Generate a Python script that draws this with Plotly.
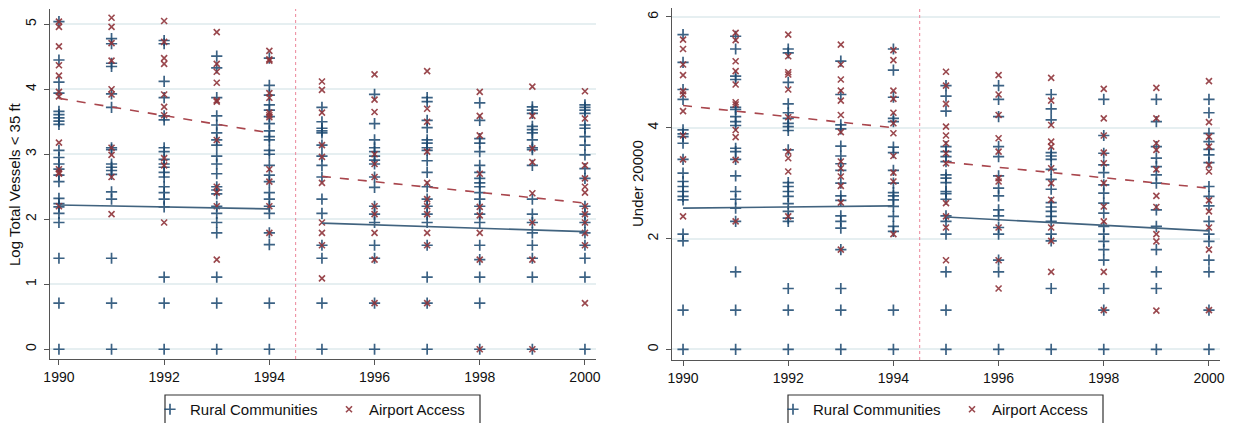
import plotly.graph_objects as go

# ---------------- data ----------------
years = [1990, 1991, 1992, 1993, 1994, 1995, 1996, 1997, 1998, 1999, 2000]

# Left panel: Log Total Vessels < 35 ft
left_rural = {
    1990: [5.04, 4.45, 4.11, 3.94, 3.66, 3.61, 3.56, 3.51, 3.46, 3.06, 2.95, 2.85, 2.77, 2.68, 2.58, 2.32, 2.24, 2.19, 2.09, 1.95, 1.40, 0.71, 0],
    1991: [4.78, 4.70, 4.40, 4.35, 3.93, 3.72, 3.10, 3.07, 2.85, 2.80, 2.75, 2.69, 2.42, 2.31, 1.40, 0.71, 0],
    1992: [4.75, 4.70, 4.12, 3.87, 3.59, 3.53, 3.10, 3.04, 2.92, 2.85, 2.80, 2.72, 2.65, 2.50, 2.41, 2.31, 2.19, 1.11, 0.71, 0],
    1993: [4.51, 4.33, 3.87, 3.59, 3.45, 3.33, 3.22, 3.14, 2.97, 2.85, 2.70, 2.50, 2.45, 2.39, 2.20, 2.09, 1.95, 1.79, 1.11, 0.71, 0],
    1994: [4.48, 4.06, 3.91, 3.76, 3.68, 3.58, 3.47, 3.36, 3.27, 3.22, 3.06, 3.00, 2.83, 2.68, 2.58, 2.41, 2.31, 2.20, 2.09, 1.79, 1.61, 0.71, 0],
    1995: [3.72, 3.50, 3.40, 3.36, 3.33, 3.14, 2.97, 2.83, 2.65, 2.31, 2.09, 1.60, 1.40, 0.71, 0],
    1996: [3.92, 3.47, 3.22, 3.10, 3.04, 2.97, 2.91, 2.85, 2.65, 2.49, 2.20, 2.08, 1.95, 1.60, 1.40, 0.71, 0],
    1997: [3.87, 3.81, 3.52, 3.41, 3.22, 3.17, 3.10, 3.06, 2.90, 2.72, 2.50, 2.31, 2.20, 2.08, 1.95, 1.60, 1.11, 0.71, 0],
    1998: [3.79, 3.52, 3.24, 3.17, 3.04, 2.83, 2.72, 2.63, 2.56, 2.50, 2.41, 2.31, 2.20, 2.08, 1.95, 1.60, 1.38, 1.11, 0.71, 0],
    1999: [3.73, 3.68, 3.63, 3.43, 3.38, 3.33, 3.22, 3.10, 3.07, 2.83, 2.31, 2.08, 1.95, 1.79, 1.60, 1.40, 1.11, 0],
    2000: [3.76, 3.72, 3.68, 3.63, 3.45, 3.40, 3.27, 3.14, 2.99, 2.78, 2.63, 2.20, 2.08, 1.95, 1.79, 1.60, 1.40, 1.11, 0],
}
left_airport = {
    1990: [5.04, 4.96, 4.66, 4.37, 4.21, 3.96, 3.89, 3.18, 2.77, 2.72, 2.70, 2.20],
    1991: [5.10, 4.96, 4.71, 4.44, 4.00, 3.92, 3.10, 2.99, 2.65, 2.08],
    1992: [5.05, 4.73, 4.48, 4.39, 3.92, 3.73, 3.60, 2.94, 2.83, 1.95],
    1993: [4.88, 4.39, 4.27, 4.10, 3.83, 3.81, 3.22, 2.50, 2.41, 2.20, 1.38],
    1994: [4.59, 4.46, 4.44, 3.94, 3.87, 3.64, 3.60, 3.57, 2.77, 2.58, 2.20, 1.79],
    1995: [4.12, 3.99, 3.64, 3.14, 2.96, 2.56, 1.95, 1.79, 1.60, 1.09],
    1996: [4.23, 3.84, 3.65, 3.00, 2.85, 2.65, 2.20, 2.08, 1.79, 1.38, 0.71],
    1997: [4.28, 3.70, 3.50, 3.04, 2.56, 2.31, 2.20, 2.08, 1.79, 1.60, 0.71],
    1998: [3.96, 3.59, 3.29, 2.70, 2.19, 2.06, 1.79, 1.38, 0],
    1999: [4.04, 3.59, 3.09, 2.88, 2.40, 1.95, 1.38, 0],
    2000: [3.97, 3.55, 2.83, 2.63, 2.50, 2.41, 2.20, 2.08, 1.95, 1.79, 1.60, 0.71],
}

# Right panel: Under 20000
right_rural = {
    1990: [5.68, 5.18, 4.69, 4.51, 3.96, 3.89, 3.84, 3.72, 3.43, 3.18, 3.03, 2.94, 2.85, 2.76, 2.70, 2.08, 1.96, 0.71, 0],
    1991: [5.65, 5.42, 4.93, 4.87, 4.37, 4.33, 4.20, 4.11, 4.04, 3.63, 3.57, 3.43, 3.13, 2.85, 2.71, 2.55, 2.31, 1.40, 0.71, 0],
    1992: [5.42, 5.35, 4.82, 4.43, 4.27, 4.17, 4.08, 4.02, 3.95, 3.60, 3.01, 2.94, 2.85, 2.76, 2.63, 2.49, 2.37, 2.31, 1.10, 0.71, 0],
    1993: [5.20, 4.60, 4.05, 3.98, 3.67, 3.49, 3.35, 3.23, 3.00, 2.77, 2.69, 2.41, 2.31, 2.19, 1.80, 1.10, 0.71, 0],
    1994: [5.42, 5.04, 4.55, 4.17, 4.11, 3.65, 3.55, 3.23, 3.00, 2.83, 2.77, 2.70, 2.58, 2.40, 2.22, 2.13, 0.71, 0],
    1995: [4.76, 4.57, 4.30, 3.66, 3.57, 3.48, 3.39, 3.15, 3.09, 3.01, 2.85, 2.81, 2.71, 2.41, 2.31, 2.08, 1.40, 0.71, 0],
    1996: [4.76, 4.51, 4.20, 3.66, 3.48, 3.13, 2.91, 2.77, 2.52, 2.41, 2.20, 2.08, 1.61, 1.40, 0],
    1997: [4.60, 4.34, 4.14, 3.55, 3.49, 3.43, 3.25, 3.07, 2.89, 2.65, 2.57, 2.49, 2.40, 2.31, 2.08, 1.96, 1.10, 0],
    1998: [4.51, 3.86, 3.54, 3.33, 3.19, 2.97, 2.82, 2.64, 2.46, 2.22, 2.08, 1.95, 1.80, 1.61, 1.10, 0.71, 0],
    1999: [4.51, 4.11, 3.66, 3.45, 3.30, 3.15, 3.00, 2.52, 2.22, 1.80, 1.40, 1.10, 0],
    2000: [4.51, 4.27, 3.90, 3.75, 3.61, 3.51, 3.37, 2.94, 2.76, 2.59, 2.31, 2.08, 1.95, 1.61, 1.40, 0.71, 0],
}
right_airport = {
    1990: [5.59, 5.42, 5.14, 4.95, 4.66, 4.60, 4.30, 3.86, 3.43, 2.40],
    1991: [5.71, 5.58, 5.20, 5.02, 4.78, 4.46, 4.42, 3.96, 3.83, 3.42, 2.31],
    1992: [5.68, 5.29, 5.00, 4.96, 4.69, 4.19, 3.57, 3.45, 3.21, 2.40],
    1993: [5.50, 5.14, 4.87, 4.67, 4.49, 4.23, 3.92, 3.39, 3.27, 3.12, 2.95, 2.65, 1.80],
    1994: [5.40, 5.22, 4.67, 4.52, 4.27, 4.08, 3.90, 3.49, 3.19, 3.03, 2.08],
    1995: [5.01, 4.76, 4.43, 4.02, 3.86, 3.72, 3.54, 3.36, 2.64, 2.40, 2.20, 1.61],
    1996: [4.95, 4.60, 4.23, 3.81, 3.57, 3.09, 3.03, 2.20, 1.61, 1.10],
    1997: [4.90, 4.49, 4.05, 3.75, 3.66, 3.27, 3.00, 2.70, 2.20, 1.96, 1.40],
    1998: [4.70, 4.17, 3.86, 3.55, 3.36, 3.00, 2.58, 2.31, 1.40, 0.71],
    1999: [4.72, 4.17, 3.72, 3.60, 3.25, 2.77, 2.57, 2.08, 1.95, 0.70],
    2000: [4.84, 4.10, 3.84, 3.66, 3.33, 3.21, 2.69, 2.49, 2.20, 1.80, 0.71],
}

# Linear fits (pre / post period endpoints)
fit_pre_years = [1990, 1994]
fit_post_years = [1995, 2000]
left_rural_fit_pre = [2.22, 2.16]
left_rural_fit_post = [1.94, 1.81]
left_airport_fit_pre = [3.86, 3.33]
left_airport_fit_post = [2.66, 2.25]
right_rural_fit_pre = [2.55, 2.59]
right_rural_fit_post = [2.39, 2.14]
right_airport_fit_pre = [4.40, 4.00]
right_airport_fit_post = [3.38, 2.91]

policy_break = 1994.5
x_ticks = [1990, 1992, 1994, 1996, 1998, 2000]
left_y_ticks = [0, 1, 2, 3, 4, 5]
right_y_ticks = [0, 2, 4, 6]
left_y_title = "Log Total Vessels < 35 ft"
right_y_title = "Under 20000"
series_names = ["Rural Communities", "Airport Access"]

# ---------------- styling ----------------
BLUE = "#1a476f"
RED = "#90353b"
BLUE_LINE = "#41637f"
RED_LINE = "#a9464d"
GRID = "#e6eff1"
AXIS = "#555555"
VLINE = "#ec8599"
FONT = "Liberation Sans, Arial, sans-serif"
W, H = 1233, 423


def flatten(d):
    xs, ys = [], []
    for yr in years:
        for v in d.get(yr, []):
            xs.append(yr)
            ys.append(v)
    return xs, ys


fig = go.Figure()


def add_panel(rural, airport, fits, xa, ya, legend):
    rx, ry = flatten(rural)
    ax_, ay_ = flatten(airport)
    fig.add_trace(go.Scatter(
        x=rx, y=ry, mode="markers", name=series_names[0], legend=legend,
        xaxis=xa, yaxis=ya,
        marker=dict(symbol="cross-thin", size=8, color=BLUE, opacity=0.85,
                    line=dict(width=1.7, color=BLUE))))
    fig.add_trace(go.Scatter(
        x=ax_, y=ay_, mode="markers", name=series_names[1], legend=legend,
        xaxis=xa, yaxis=ya,
        marker=dict(symbol="x-thin", size=6, color=RED, opacity=0.9,
                    line=dict(width=1.6, color=RED))))
    (rpre, rpost, apre, apost) = fits
    for yy, xx in ((rpre, fit_pre_years), (rpost, fit_post_years)):
        fig.add_trace(go.Scatter(x=xx, y=yy, mode="lines", showlegend=False,
                                 xaxis=xa, yaxis=ya,
                                 line=dict(color=BLUE_LINE, width=1.6)))
    for yy, xx in ((apre, fit_pre_years), (apost, fit_post_years)):
        fig.add_trace(go.Scatter(x=xx, y=yy, mode="lines", showlegend=False,
                                 xaxis=xa, yaxis=ya,
                                 line=dict(color=RED_LINE, width=1.6, dash="dash")))


add_panel(left_rural, left_airport,
          (left_rural_fit_pre, left_rural_fit_post, left_airport_fit_pre, left_airport_fit_post),
          "x", "y", "legend")
add_panel(right_rural, right_airport,
          (right_rural_fit_pre, right_rural_fit_post, right_airport_fit_pre, right_airport_fit_post),
          "x2", "y2", "legend2")

xcommon = dict(tickmode="array", tickvals=x_ticks, showgrid=False, zeroline=False,
               showline=True, linecolor=AXIS, linewidth=1.3, ticks="outside",
               ticklen=5, tickcolor=AXIS, tickwidth=1.2, automargin=False,
               tickfont=dict(size=14, color="#111111", family=FONT))
ycommon = dict(tickmode="array", showgrid=True, gridcolor=GRID, gridwidth=1.5,
               zeroline=False, showline=True, linecolor=AXIS, linewidth=1.3,
               ticks="outside", ticklen=5, tickcolor=AXIS, tickwidth=1.2,
               tickangle=-90, ticklabelstandoff=2, automargin=False,
               tickfont=dict(size=14, color="#111111", family=FONT))

fig.update_layout(
    width=W, height=H,
    margin=dict(l=0, r=0, t=0, b=0, autoexpand=False),
    paper_bgcolor="white", plot_bgcolor="white",
    font=dict(family=FONT, size=14, color="#111111"),
    xaxis=dict(xcommon, domain=[50 / W, 596 / W], range=[1989.83, 2000.21], anchor="y"),
    yaxis=dict(ycommon, domain=[(H - 359) / H, (H - 9) / H], range=[-0.15, 5.235],
               tickvals=left_y_ticks, anchor="x"),
    xaxis2=dict(xcommon, domain=[672 / W, 1220 / W], range=[1989.79, 2000.21], anchor="y2"),
    yaxis2=dict(ycommon, domain=[(H - 360) / H, (H - 8) / H], range=[-0.19, 6.16],
                tickvals=right_y_ticks, anchor="x2"),
    legend=dict(orientation="h", x=150 / W, xanchor="left", y=(H - 393) / H, yanchor="top",
                bgcolor="rgba(0,0,0,0)", borderwidth=0, entrywidth=134,
                font=dict(size=15, family=FONT, color="#111111")),
    legend2=dict(orientation="h", x=773 / W, xanchor="left", y=(H - 393) / H, yanchor="top",
                 bgcolor="rgba(0,0,0,0)", borderwidth=0, entrywidth=134,
                 font=dict(size=15, family=FONT, color="#111111")),
    showlegend=True,
)

# y-axis titles
for txt, xpx in ((left_y_title, 15), (right_y_title, 638)):
    fig.add_annotation(text=txt, xref="paper", yref="paper", x=xpx / W, y=(H - 184) / H,
                       xanchor="center", yanchor="middle", textangle=-90, showarrow=False,
                       font=dict(size=15, family=FONT, color="#111111"))

# policy break reference lines
fig.add_shape(type="line", x0=policy_break, x1=policy_break, y0=0, y1=1,
              xref="x", yref="y domain", line=dict(color=VLINE, width=1, dash="dot"))
fig.add_shape(type="line", x0=policy_break, x1=policy_break, y0=0, y1=1,
              xref="x2", yref="y2 domain", line=dict(color=VLINE, width=1, dash="dot"))

# legend frames
for x0, x1 in ((165, 480), (788, 1103)):
    fig.add_shape(type="rect", xref="paper", yref="paper",
                  x0=x0 / W, x1=x1 / W, y0=-0.1, y1=(H - 395) / H,
                  line=dict(color="#333333", width=1.2), fillcolor="rgba(0,0,0,0)")

fig.write_html("out.html", config={"displayModeBar": False},
               post_script="document.body.style.margin='0';document.body.style.padding='0';")
